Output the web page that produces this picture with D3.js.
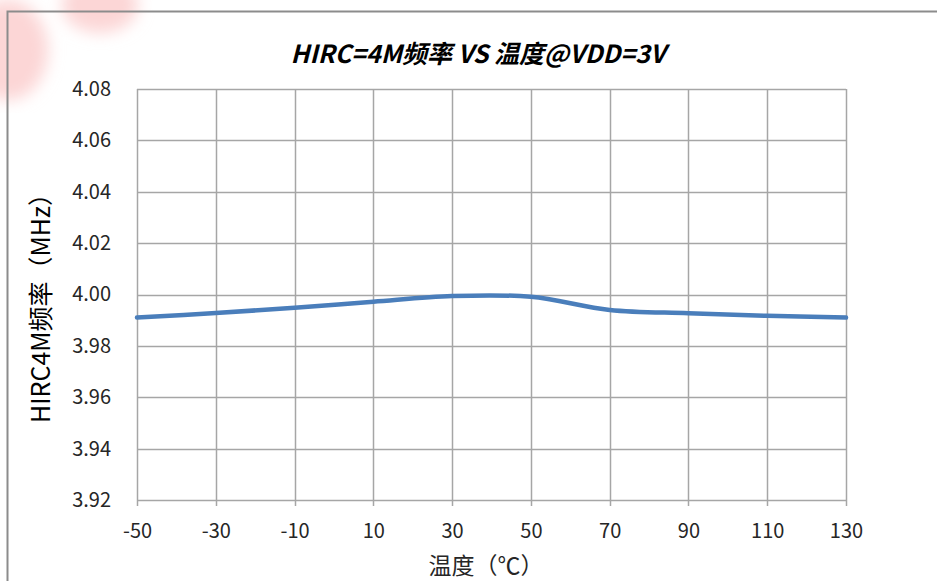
<!DOCTYPE html>
<html><head><meta charset="utf-8">
<script src="https://cdn.jsdelivr.net/npm/d3@7"></script>
<style>html,body{margin:0;padding:0;background:#fff;}svg{display:block;}</style>
</head><body>
<svg id="chart" width="937" height="581"></svg>
<script>
const temps = [-50, -30, -10, 10, 30, 50, 70, 90, 110, 130];
const freqs = [3.9910, 3.9928, 3.9948, 3.9972, 3.9994, 3.9991, 3.9940, 3.9927, 3.9917, 3.9910];
const xTicks = [-50, -30, -10, 10, 30, 50, 70, 90, 110, 130];
const yTicks = [3.92, 3.94, 3.96, 3.98, 4.00, 4.02, 4.04, 4.06, 4.08];
const titleText = "HIRC=4M频率 VS 温度@VDD=3V";
const xTitle = "温度（℃）";
const yTitle = "HIRC4M频率（MHz）";

const svg = d3.select("#chart");
const W = 937, H = 581;
const m = {left: 137, right: 846, top: 89, bottom: 500};
const font = "'Noto Sans CJK SC','Noto Sans',sans-serif";

// faint watermark
const defs = svg.append("defs");
defs.append("filter").attr("id", "blur").append("feGaussianBlur").attr("stdDeviation", 8);
const wm = svg.append("g").attr("filter", "url(#blur)").attr("fill", "#fcd6d6");
wm.append("ellipse").attr("cx", 8).attr("cy", 50).attr("rx", 40).attr("ry", 50);
wm.append("ellipse").attr("cx", 100).attr("cy", 5).attr("rx", 38).attr("ry", 28);

// outer frame
svg.append("path").attr("d", `M7.5,${H} L7.5,11.5 L${W},11.5`).attr("fill", "none")
  .attr("stroke", "#8c8c8c").attr("stroke-width", 2);

const x = d3.scaleLinear().domain([-50, 130]).range([m.left, m.right]);
const y = d3.scaleLinear().domain([3.92, 4.08]).range([m.bottom, m.top]);

// grid
const g = svg.append("g");
g.selectAll(".hg").data(yTicks).enter().append("line")
  .attr("x1", m.left).attr("x2", m.right)
  .attr("y1", d => Math.round(y(d)) + 0.5).attr("y2", d => Math.round(y(d)) + 0.5)
  .attr("stroke", "#a6a6a6").attr("stroke-width", 1.5);
g.selectAll(".vg").data(xTicks).enter().append("line")
  .attr("y1", m.top).attr("y2", m.bottom + 6)
  .attr("x1", d => Math.round(x(d)) + 0.5).attr("x2", d => Math.round(x(d)) + 0.5)
  .attr("stroke", "#a6a6a6").attr("stroke-width", 1.5);

// axes labels via d3 axes
const xAxis = svg.append("g").attr("transform", `translate(0,${m.bottom})`)
  .call(d3.axisBottom(x).tickValues(xTicks).tickSize(0).tickPadding(25).tickFormat(d => String(d)));
const yAxis = svg.append("g").attr("transform", `translate(${m.left},0)`)
  .call(d3.axisLeft(y).tickValues(yTicks).tickSize(0).tickPadding(26).tickFormat(d3.format(".2f")));
[xAxis, yAxis].forEach(a => {
  a.select(".domain").remove();
  a.selectAll("text").attr("font-family", font).attr("font-size", 20).attr("fill", "#262626");
});
xAxis.selectAll("text").attr("dy", "0.32em").attr("transform", "translate(0,7)");

// line
svg.append("path").datum(temps.map((t, i) => [t, freqs[i]]))
  .attr("d", d3.line().x(d => x(d[0])).y(d => y(d[1])).curve(d3.curveCatmullRom.alpha(0.5)))
  .attr("fill", "none").attr("stroke", "#4a7ebb").attr("stroke-width", 4.5).attr("stroke-linecap", "round");

// titles
svg.append("text").attr("x", 478).attr("y", 63).attr("text-anchor", "middle")
  .attr("font-family", font).attr("font-size", 25).attr("font-weight", "bold").attr("font-style", "italic")
  .attr("fill", "#000").text(titleText);
svg.append("text").attr("x", 486).attr("y", 574).attr("text-anchor", "middle")
  .attr("font-family", font).attr("font-size", 23).attr("fill", "#262626").text(xTitle);
svg.append("text").attr("transform", "translate(50,302) rotate(-90)").attr("text-anchor", "middle")
  .attr("font-family", font).attr("font-size", 25).attr("fill", "#000").text(yTitle);
</script>
</body></html>
